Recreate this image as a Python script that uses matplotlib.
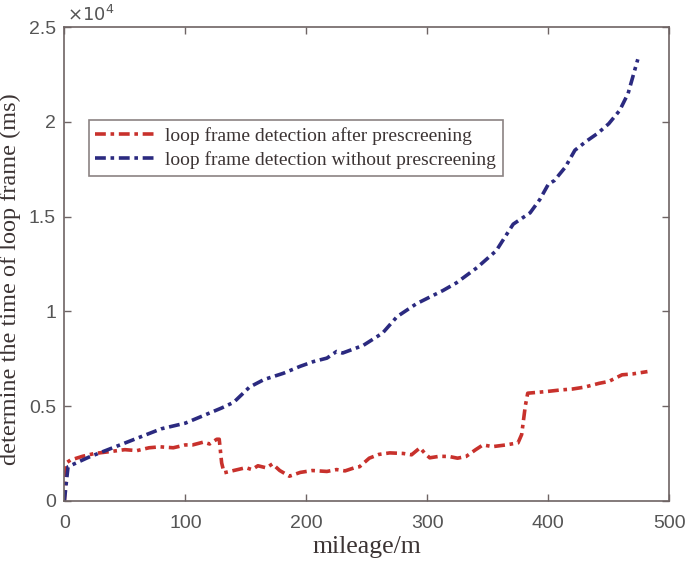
import matplotlib
matplotlib.use("Agg")
import matplotlib.pyplot as plt

red_x = [0, 1.5, 5, 15, 25, 38, 50, 60, 70, 79, 90, 100, 106, 115, 120, 126, 128, 130, 132,
         140, 150, 155, 160, 167, 172, 178, 186, 195, 205, 217, 225, 232, 240, 244, 252, 260,
         269, 280, 287, 294, 298, 302, 310, 318, 325, 332, 340, 346, 354, 365, 375, 378, 381,
         383, 399, 410, 420, 430, 442, 450, 461, 470, 482]
red_y = [0, 2000, 2150, 2350, 2500, 2600, 2700, 2650, 2800, 2850, 2800, 2950, 2950, 3100, 3000,
         3250, 3250, 2000, 1480, 1600, 1750, 1650, 1850, 1740, 1950, 1600, 1300, 1500, 1600,
         1550, 1650, 1580, 1750, 1800, 2250, 2450, 2530, 2500, 2430, 2800, 2500, 2270, 2350,
         2340, 2250, 2340, 2700, 2950, 2860, 2950, 3060, 3500, 5000, 5680, 5770, 5850, 5900,
         6000, 6200, 6300, 6650, 6700, 6820]

blue_x = [0, 3, 20, 40, 60, 80, 100, 115, 130, 140, 153, 165, 181, 195, 206, 217, 225, 230,
          247, 263, 275, 291, 313, 324, 341, 357, 371, 385, 393, 400, 405, 414, 422, 432, 441,
          450, 459, 466, 474]
blue_y = [0, 1800, 2300, 2800, 3300, 3800, 4100, 4500, 4900, 5200, 6000, 6400, 6730, 7100,
          7350, 7530, 7880, 7800, 8200, 8850, 9720, 10400, 11100, 11500, 12300, 13200, 14600,
          15200, 15900, 16700, 16900, 17600, 18500, 19000, 19400, 19900, 20600, 21500, 23300]

x_ticks = [0, 100, 200, 300, 400, 500]
y_ticks = [0, 5000, 10000, 15000, 20000, 25000]
y_tick_labels = ["0", "0.5", "1", "1.5", "2", "2.5"]
labels = ["loop frame detection after prescreening", "loop frame detection without prescreening"]

fig = plt.figure(figsize=(6.85, 5.64), dpi=100)
ax = fig.add_axes([0.094, 0.112, 0.883, 0.840])

ls = (0, (3, 1.3, 1, 1.3))
ax.plot(red_x, red_y, color="#c8312c", lw=2.6, linestyle=ls, label=labels[0])
ax.plot(blue_x, blue_y, color="#2b2a80", lw=2.6, linestyle=ls, label=labels[1])

ax.set_xlim(0, 500)
ax.set_ylim(0, 25000)
ax.set_xticks(x_ticks)
ax.set_yticks(y_ticks)
ax.set_yticklabels(y_tick_labels)

edge = "#6e6464"
for s in ax.spines.values():
    s.set_color(edge)
    s.set_linewidth(1.2)
ax.tick_params(direction="in", top=True, right=True, length=5, width=1, color=edge,
               labelsize=14, labelcolor="#555555")
ax.tick_params(axis="x", pad=10)
ax.tick_params(axis="y", pad=6)
for lab in ax.get_xticklabels() + ax.get_yticklabels():
    lab.set_family("Liberation Sans")

ax.text(0.005, 1.005, r"$\times10^4$", transform=ax.transAxes, fontsize=13,
        color="#555555", ha="left", va="bottom", family="Liberation Sans")

ax.set_xlabel("mileage/m", family="Liberation Serif", fontsize=18.5, color="#3c3434")
ax.xaxis.set_label_coords(0.5, -0.075)
ax.set_ylabel("determine the time of loop frame (ms)", family="Liberation Serif",
              fontsize=17.5, color="#3c3434")
ax.yaxis.set_label_coords(-0.072, 0.468)

leg = ax.legend(loc="upper left", bbox_to_anchor=(0.04, 0.804),
                prop={"family": "Liberation Serif", "size": 14},
                frameon=True, fancybox=False, edgecolor=edge, handlelength=3.0,
                borderpad=0.35, labelspacing=0.35, handletextpad=0.6, borderaxespad=0)
leg.get_frame().set_linewidth(1.2)
for t in leg.get_texts():
    t.set_color("#3c3434")

fig.savefig("out.png", dpi=100, facecolor="white")
